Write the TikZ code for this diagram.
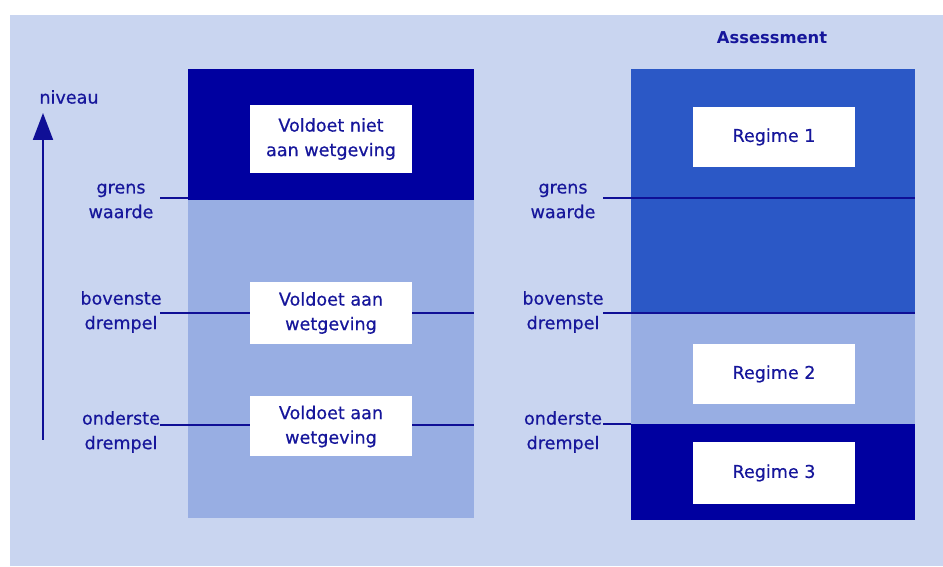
\documentclass[tikz,border=0pt]{standalone}
\usepackage{fontspec}
\setmainfont{DejaVu Sans}[FakeBold=0.5, BoldFeatures={FakeBold=0}]
\usetikzlibrary{arrows.meta}
\definecolor{panelBg}{RGB}{201,213,240}
\definecolor{darkBlue}{RGB}{0,0,160}
\definecolor{midBlue}{RGB}{43,88,198}
\definecolor{lightBlue}{RGB}{152,174,227}
\definecolor{textBlue}{RGB}{22,22,155}
\definecolor{lineBlue}{RGB}{15,15,150}
\begin{document}
\begin{tikzpicture}[
	levelBox/.style={rectangle, inner sep=0pt, minimum width=5.72cm},
	whiteBox/.style={rectangle, fill=white, inner sep=0pt, minimum width=3.24cm, minimum height=1.2cm, align=center, text=textBlue, font=\fontsize{10}{14}\selectfont},
	levelLabel/.style={align=center, text=textBlue, font=\fontsize{10}{14}\selectfont},
	levelLine/.style={draw=lineBlue, line width=0.8pt}]
	\useasboundingbox (0,0) rectangle (18.86,11.32);
	\fill[panelBg] (0.2,0) rectangle (18.86,11.02);
	% left column
	\node[levelBox, fill=lightBlue, minimum height=8.98cm](leftBox) at (6.62,5.45){};
	\node[levelBox, fill=darkBlue, minimum height=2.62cm](leftTopBox) at (6.62,8.63){};
	\node[whiteBox, minimum height=1.36cm](notCompliantBox) at (6.62,8.54){Voldoet niet\\aan wetgeving};
	\node[whiteBox, minimum height=1.24cm](upperCompliantBox) at (6.62,5.06){Voldoet aan\\wetgeving};
	\node[whiteBox](lowerCompliantBox) at (6.62,2.79){Voldoet aan\\wetgeving};
	\node[levelLabel](grensLeftLabel) at (2.42,7.30){grens\\waarde};
	\node[levelLabel](bovenLeftLabel) at (2.42,5.08){bovenste\\drempel};
	\node[levelLabel](onderLeftLabel) at (2.42,2.68){onderste\\drempel};
	\coordinate (grensLeft) at (3.2,7.36);
	\coordinate (bovenLeft) at (3.2,5.06);
	\coordinate (onderLeft) at (3.2,2.82);
	\draw[levelLine] (grensLeft) -- (grensLeft -| leftBox.west);
	\draw[levelLine] (bovenLeft) -- (bovenLeft -| upperCompliantBox.west);
	\draw[levelLine] (bovenLeft -| upperCompliantBox.east) -- (bovenLeft -| leftBox.east);
	\draw[levelLine] (onderLeft) -- (onderLeft -| lowerCompliantBox.west);
	\draw[levelLine] (onderLeft -| lowerCompliantBox.east) -- (onderLeft -| leftBox.east);
	% level axis
	\node[levelLabel](niveauLabel) at (1.38,9.38){niveau};
	\coordinate (axisLow) at (0.86,2.52);
	\coordinate (axisHigh) at (0.86,9.06);
	\draw[-{Triangle[width=0.4cm,length=0.54cm]}, draw=lineBlue, line width=1.1pt] (axisLow) -- (axisHigh);
	% right column
	\node[levelLabel, font=\bfseries\fontsize{9.3}{12}\selectfont](assessmentTitle) at (15.44,10.56){Assessment};
	\node[levelBox, minimum width=5.68cm, fill=midBlue, minimum height=4.88cm](regime1Zone) at (15.46,7.5){};
	\node[levelBox, minimum width=5.68cm, fill=lightBlue, minimum height=2.22cm](regime2Zone) at (15.46,3.95){};
	\node[levelBox, minimum width=5.68cm, fill=darkBlue, minimum height=1.92cm](regime3Zone) at (15.46,1.88){};
	\node[whiteBox](regime1Box) at (15.48,8.58){Regime 1};
	\node[whiteBox](regime2Box) at (15.48,3.84){Regime 2};
	\node[whiteBox, minimum height=1.24cm](regime3Box) at (15.48,1.86){Regime 3};
	\node[levelLabel](grensRightLabel) at (11.26,7.30){grens\\waarde};
	\node[levelLabel](bovenRightLabel) at (11.26,5.08){bovenste\\drempel};
	\node[levelLabel](onderRightLabel) at (11.26,2.68){onderste\\drempel};
	\coordinate (grensRight) at (12.06,7.36);
	\coordinate (bovenRight) at (12.06,5.06);
	\coordinate (onderRight) at (12.06,2.84);
	\draw[levelLine] (grensRight) -- (grensRight -| regime1Zone.east);
	\draw[levelLine] (bovenRight) -- (bovenRight -| regime2Zone.east);
	\draw[levelLine] (onderRight) -- (onderRight -| regime3Zone.west);
\end{tikzpicture}
\end{document}
